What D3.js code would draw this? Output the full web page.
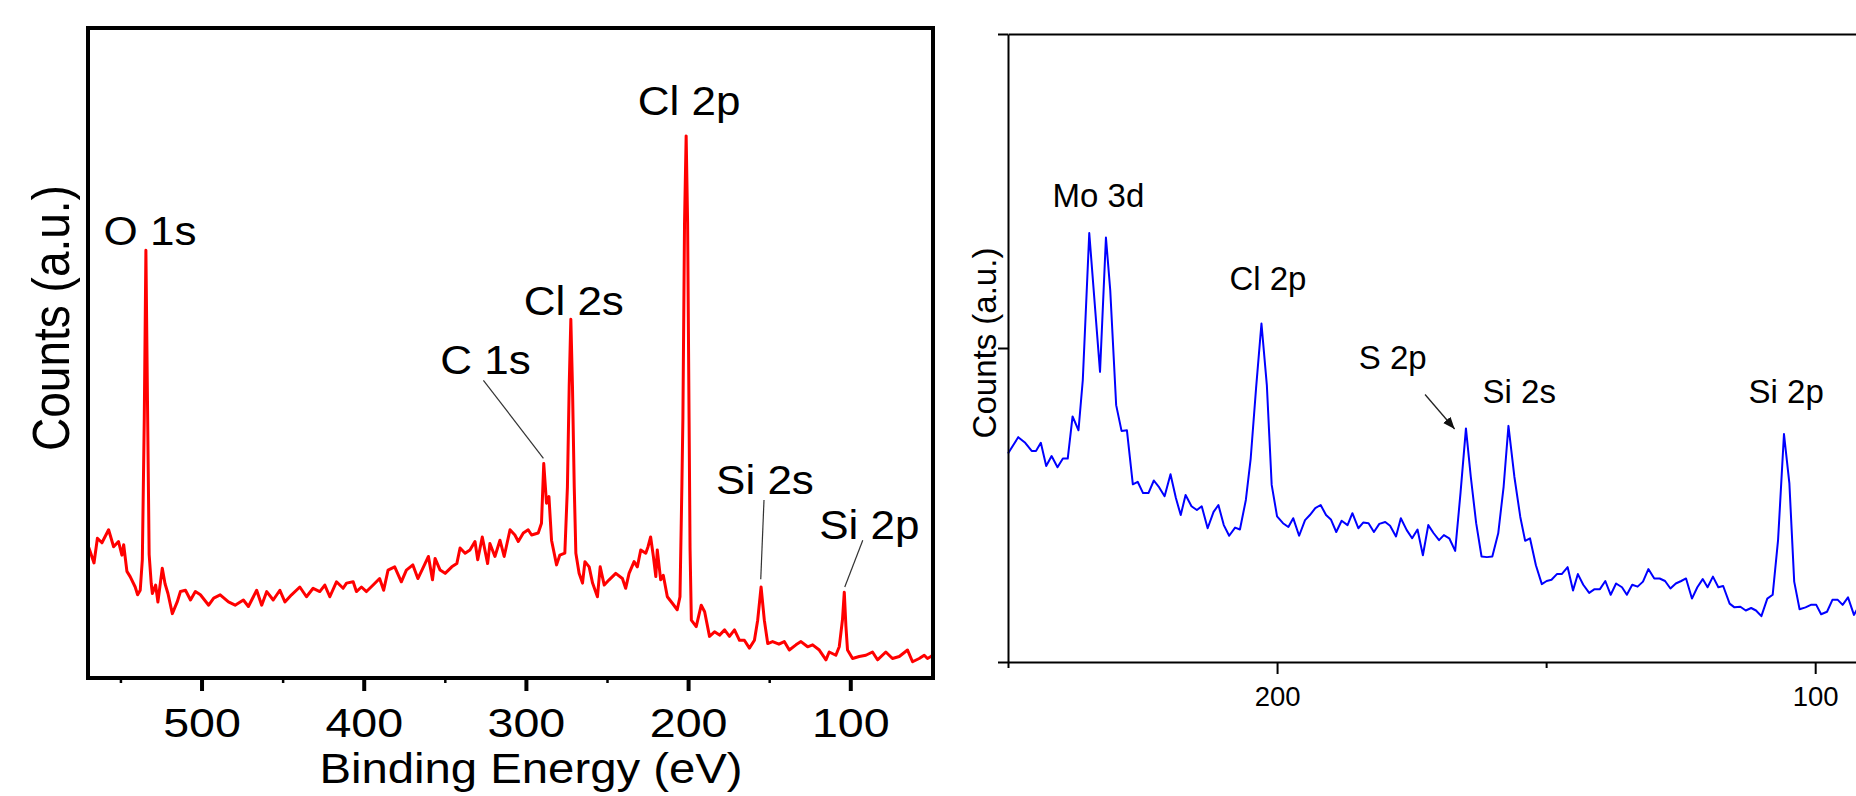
<!DOCTYPE html>
<html>
<head>
<meta charset="utf-8">
<script src="https://cdn.jsdelivr.net/npm/d3@7"></script>
<style>
body { margin: 0; background: #fff; overflow: hidden; }
text { font-family: "Liberation Sans", Arial, sans-serif; fill: #000; }
</style>
</head>
<body>
<script>
// ---- data ----
// left panel: XPS survey, binding energy (eV) / counts (a.u.)
var surveyEnergy = [570, 569.4, 566.3, 564.2, 561.4, 557.3, 554.2, 551.2, 549.1, 548.0, 546.0, 544.0, 540.9, 539.4, 537.8,
  536.5, 535.3, 534.3, 533.3, 532.3, 531.0, 530.3, 528.3, 526.9, 524.2, 522.5, 520.7, 518.0, 515.0, 513.0, 509.9,
  506.8, 503.8, 500.7, 495.6, 492.5, 488.5, 483.4, 479.3, 474.2, 471.1, 466.0, 462.9, 459.8, 455.8, 451.7, 448.6,
  444.5, 439.4, 435.3, 431.2, 427.1, 424.0, 420.9, 416.8, 412.7, 410.6, 406.5, 404.5, 401.4, 398.3, 394.2, 390.2,
  387.7, 385.0, 380.9, 376.8, 373.7, 369.7, 366.6, 363.5, 360.1, 357.6, 356.0, 352.9, 349.8, 345.7, 342.6, 340.6,
  337.5, 334.5, 331.4, 329.7, 326.9, 323.6, 322.2, 319.1, 316.0, 313.4, 309.8, 306.8, 304.7, 301.6, 298.6, 296.5,
  292.4, 290.4, 289.0, 287.3, 285.8, 284.2, 281.1, 279.1, 276.0, 274.4, 273.3, 272.3, 271.3, 270.2, 269.2, 267.2,
  265.1, 263.6, 261.0, 258.9, 255.9, 254.2, 251.7, 248.7, 244.6, 240.5, 238.5, 236.4, 233.3, 231.3, 229.2, 226.1,
  224.7, 223.1, 221.4, 219.9, 219.0, 216.9, 215.3, 212.8, 209.7, 206.7, 205.0, 203.8, 203.2, 202.2, 201.2, 200.3,
  199.4, 198.8, 198.0, 195.0, 191.9, 189.8, 186.8, 183.7, 180.6, 177.5, 174.5, 171.4, 168.3, 165.3, 162.2, 159.1,
  157.1, 155.0, 153.0, 150.9, 147.9, 144.0, 140.7, 137.6, 133.5, 130.4, 126.3, 123.2, 119.1, 115.0, 113.0, 108.9,
  106.8, 104.8, 103.7, 102.7, 101.7, 98.6, 94.5, 90.4, 86.3, 83.2, 78.1, 74.0, 69.8, 64.7, 61.6, 57.5, 54.4, 52.4,
  50.3, 49.0];
var surveyCounts = [19.5, 20.0, 17.7, 21.5, 20.8, 22.8, 20.2, 21.0, 18.9, 20.5, 16.4, 15.6, 14.0, 12.8, 13.5,
  18.2, 40.0, 65.8, 42.0, 19.0, 14.5, 13.0, 14.3, 11.7, 16.9, 14.5, 13.0, 9.9, 11.7, 13.3, 13.5,
  12.0, 13.3, 12.8, 11.2, 12.3, 12.8, 11.7, 11.2, 12.0, 11.0, 13.5, 11.2, 13.3, 12.0, 13.5, 11.7,
  12.8, 14.0, 12.5, 13.8, 13.3, 14.3, 12.5, 14.8, 13.8, 14.6, 14.8, 13.3, 14.0, 13.3, 14.3, 15.3,
  13.5, 16.6, 17.1, 14.8, 16.6, 17.4, 15.3, 16.9, 18.7, 15.1, 18.4, 16.6, 16.1, 17.1, 17.6, 20.0,
  19.2, 19.7, 21.0, 18.2, 21.7, 17.6, 20.7, 18.7, 21.2, 18.7, 22.8, 22.0, 21.0, 22.3, 22.8, 22.0,
  22.3, 23.8, 33.0, 26.9, 27.9, 21.2, 17.4, 18.9, 19.2, 29.4, 45.0, 55.2, 45.0, 29.4, 19.2, 16.1,
  14.6, 17.9, 17.1, 14.6, 12.5, 17.1, 14.3, 15.1, 16.1, 15.3, 13.8, 16.1, 17.9, 17.1, 19.7, 19.2,
  20.2, 21.7, 18.7, 15.6, 19.7, 15.1, 15.8, 12.5, 11.5, 10.5, 12.5, 30.0, 40.0, 70.0, 83.4, 70.0,
  40.0, 20.0, 8.9, 7.9, 11.2, 10.2, 6.4, 7.1, 6.6, 7.4, 6.4, 7.4, 5.8, 5.8, 4.6, 5.8,
  8.9, 14.0, 8.9, 5.3, 5.6, 5.2, 5.6, 4.3, 5.1, 5.6, 4.8, 5.1, 4.3, 2.8, 4.0, 3.5,
  4.8, 9.0, 13.2, 8.0, 4.3, 3.0, 3.3, 3.5, 4.0, 2.8, 4.0, 3.0, 3.3, 4.3, 2.5, 3.0, 3.5, 3.0,
  3.3, 3.6];
var surveyTicks = [500, 400, 300, 200, 100];
var surveyMinorTicks = [550, 450, 350, 250, 150];
var surveyLabels = ["O 1s", "C 1s", "Cl 2s", "Cl 2p", "Si 2s", "Si 2p"];
var surveyLabelEnergy = [531.8, 324.9, 270.5, 199.4, 152.6, 88.3];
var surveyLabelCounts = [66.6, 46.8, 55.8, 86.6, 28.3, 21.4];
// leader lines: [label end energy, label end counts, peak energy, peak counts]
var surveyLeaders = [[326.2, 45.8, 289.2, 33.8], [153.2, 27.4, 155.2, 15.2], [92.3, 21.2, 103.4, 14.0]];

// right panel: high resolution scan
var scanEnergy = [250, 248.1, 246.8, 245.6, 244.8, 243.9, 242.9, 241.9, 240.8, 239.8, 238.9, 238.0, 236.9, 236.1,
  234.9, 232.9, 231.8, 231.0, 229.9, 228.9, 227.9, 226.8, 225.9, 224.9, 223.9, 222.9, 221.9, 220.9, 219.8, 218.8,
  217.9, 217.0, 215.9, 214.9, 214.0, 212.9, 211.8, 210.9, 209.9, 208.9, 207.8, 206.9, 205.8, 204.9, 203.9, 202.9,
  201.9, 201.0, 200.0, 198.9, 197.9, 197.0, 195.9, 194.8, 193.9, 192.9, 191.9, 190.9, 190.0, 189.0, 188.0, 186.9,
  186.0, 184.9, 184.0, 183.0, 182.0, 181.0, 179.9, 179.0, 177.9, 177.0, 175.9, 174.9, 173.9, 172.9, 171.9, 170.9,
  169.9, 169.0, 168.0, 166.9, 165.9, 164.9, 164.0, 163.0, 162.0, 161.0, 160.0, 158.9, 157.9, 157.0, 155.9, 154.8,
  153.9, 153.0, 151.9, 150.8, 149.9, 149.0, 148.0, 147.1, 146.0, 145.0, 144.1, 143.1, 142.0, 141.0, 140.0, 139.0,
  138.0, 137.0, 135.9, 135.0, 134.0, 133.0, 132.0, 131.0, 129.9, 128.9, 127.9, 126.9, 125.9, 124.9, 124.0, 122.9,
  121.9, 120.9, 120.0, 119.0, 118.0, 117.1, 115.9, 115.0, 113.9, 112.9, 111.9, 111.0, 110.0, 108.9, 107.9, 106.9,
  105.8, 104.8, 103.9, 102.9, 101.8, 100.8, 99.8, 98.9, 97.8, 96.8, 95.8, 94.9, 93.9, 92.8, 91.8];
var scanCounts = [33.2, 35.8, 34.9, 33.6, 33.6, 34.9, 31.2, 32.8, 31.0, 32.4, 32.4, 39.1, 36.9, 44.9,
  68.3, 46.2, 67.6, 59.2, 40.9, 36.8, 36.9, 28.3, 28.7, 26.9, 26.9, 28.9, 27.8, 26.4, 29.9, 26.1,
  23.4, 26.6, 24.8, 24.2, 24.8, 21.3, 23.9, 25.0, 21.8, 20.1, 21.4, 21.1, 25.8, 32.4, 43.6, 53.9,
  44.1, 28.2, 23.2, 22.1, 21.5, 22.9, 20.1, 22.6, 23.4, 24.5, 25.0, 23.4, 22.7, 20.7, 22.5, 21.8,
  23.7, 21.3, 22.2, 22.1, 20.7, 22.0, 22.3, 21.7, 20.0, 22.9, 21.0, 19.7, 21.1, 17.0, 21.8, 20.5,
  19.4, 20.2, 19.7, 17.7, 27.0, 37.2, 29.5, 22.1, 16.8, 16.7, 16.8, 20.5, 27.9, 37.6, 29.5, 23.1,
  19.3, 19.7, 15.4, 12.4, 12.9, 13.1, 14.0, 14.0, 15.1, 11.4, 14.0, 12.3, 11.0, 11.6, 11.6, 12.9,
  10.7, 12.5, 11.9, 10.7, 12.3, 12.0, 12.8, 14.8, 13.3, 13.3, 12.9, 11.7, 12.5, 12.9, 13.3, 10.1,
  11.9, 13.2, 11.9, 13.6, 11.9, 12.1, 9.3, 8.7, 8.8, 8.2, 8.6, 8.2, 7.3, 10.1, 10.7, 19.4,
  36.3, 28.5, 12.8, 8.4, 8.7, 9.1, 9.1, 7.6, 8.0, 9.9, 9.9, 9.1, 10.3, 7.5, 9.0];
var scanTicks = [200, 100];
var scanMinorTicks = [250, 150];
var scanYTicks = [0, 50, 100];
var scanLabels = ["Mo 3d", "Cl 2p", "S 2p", "Si 2s", "Si 2p"];
var scanLabelEnergy = [233.2, 201.7, 178.5, 155.0, 105.4];
var scanLabelCounts = [72.5, 59.2, 46.6, 41.3, 41.3];
var scanArrow = [172.5, 42.6, 167.0, 37.1];

var svg = d3.select("body").append("svg")
    .attr("width", 1856)
    .attr("height", 796);

svg.append("defs").append("marker")
    .attr("id", "arrow")
    .attr("viewBox", "0 0 10 10")
    .attr("refX", 10).attr("refY", 5)
    .attr("markerUnits", "userSpaceOnUse")
    .attr("markerWidth", 12).attr("markerHeight", 12)
    .attr("orient", "auto")
    .append("path").attr("d", "M0,1L10,5L0,9z").attr("fill", "#111");

// ================= left panel =================
var xL = d3.scaleLinear().domain([570, 49]).range([88, 933]);
var yL = d3.scaleLinear().domain([0, 100]).range([678, 28]);
var left = svg.append("g");

left.append("path")
    .datum(d3.zip(surveyEnergy, surveyCounts))
    .attr("fill", "none")
    .attr("stroke", "#ff0000")
    .attr("stroke-width", 3)
    .attr("stroke-linejoin", "round")
    .attr("d", d3.line().x(function(d){ return xL(d[0]); }).y(function(d){ return yL(d[1]); }));

left.append("rect")
    .attr("x", xL.range()[0]).attr("y", yL.range()[1])
    .attr("width", xL.range()[1] - xL.range()[0])
    .attr("height", yL.range()[0] - yL.range()[1])
    .attr("fill", "none").attr("stroke", "#000").attr("stroke-width", 4);

var axL = left.append("g")
    .attr("transform", "translate(0," + yL(0) + ")")
    .call(d3.axisBottom(xL).tickValues(surveyTicks).tickSize(13).tickSizeOuter(0));
axL.select(".domain").remove();
axL.selectAll(".tick line").attr("stroke-width", 4);
axL.selectAll(".tick text")
    .attr("y", 59).attr("dy", null)
    .attr("font-size", 40.5)
    .attr("font-family", "'Liberation Sans', Arial, sans-serif")
    .attr("transform", "scale(1.15,1)");

var axLm = left.append("g")
    .attr("transform", "translate(0," + yL(0) + ")")
    .call(d3.axisBottom(xL).tickValues(surveyMinorTicks).tickSize(5).tickSizeOuter(0).tickFormat(""));
axLm.select(".domain").remove();
axLm.selectAll(".tick line").attr("stroke-width", 2.5);

left.append("text")
    .attr("transform", "translate(531,783) scale(1.1,1)")
    .attr("text-anchor", "middle")
    .attr("font-size", 43)
    .text("Binding Energy (eV)");

left.append("text")
    .attr("transform", "translate(69,318) rotate(-90) scale(1,1.12)")
    .attr("text-anchor", "middle")
    .attr("font-size", 46)
    .text("Counts (a.u.)");

left.selectAll(".lead")
    .data(surveyLeaders)
    .enter()
    .append("line")
    .attr("x1", function(d){ return xL(d[0]); })
    .attr("y1", function(d){ return yL(d[1]); })
    .attr("x2", function(d){ return xL(d[2]); })
    .attr("y2", function(d){ return yL(d[3]); })
    .attr("stroke", "#333").attr("stroke-width", 1.2);

left.selectAll(".peak")
    .data(surveyLabels)
    .enter()
    .append("text")
    .attr("transform", function(d, i){
        return "translate(" + xL(surveyLabelEnergy[i]) + "," + yL(surveyLabelCounts[i]) + ") scale(1.1,1)";
    })
    .attr("text-anchor", "middle")
    .attr("font-size", 40)
    .text(function(d){ return d; });

// ================= right panel =================
var xR = d3.scaleLinear().domain([250, 90]).range([1008, 1869]);
var yR = d3.scaleLinear().domain([0, 100]).range([662, 34]);
var right = svg.append("g");

right.append("path")
    .datum(d3.zip(scanEnergy, scanCounts))
    .attr("fill", "none")
    .attr("stroke", "#0000ff")
    .attr("stroke-width", 2)
    .attr("stroke-linejoin", "round")
    .attr("d", d3.line().x(function(d){ return xR(d[0]); }).y(function(d){ return yR(d[1]); }));

var axR = right.append("g")
    .attr("transform", "translate(0," + yR(0) + ")")
    .call(d3.axisBottom(xR).tickValues(scanTicks).tickSize(12).tickSizeOuter(0));
axR.select(".domain").attr("stroke-width", 2);
axR.selectAll(".tick line").attr("stroke-width", 2);
axR.selectAll(".tick text")
    .attr("y", 44).attr("dy", null)
    .attr("font-size", 27.5)
    .attr("font-family", "'Liberation Sans', Arial, sans-serif");

var axRm = right.append("g")
    .attr("transform", "translate(0," + yR(0) + ")")
    .call(d3.axisBottom(xR).tickValues(scanMinorTicks).tickSize(6).tickSizeOuter(0).tickFormat(""));
axRm.select(".domain").remove();
axRm.selectAll(".tick line").attr("stroke-width", 2);

var axRtop = right.append("g")
    .attr("transform", "translate(0," + yR(100) + ")")
    .call(d3.axisTop(xR).tickValues([]).tickSizeOuter(0));
axRtop.select(".domain").attr("stroke-width", 2);

var axRy = right.append("g")
    .attr("transform", "translate(" + xR(250) + ",0)")
    .call(d3.axisLeft(yR).tickValues(scanYTicks).tickSize(10).tickSizeOuter(0).tickFormat(""));
axRy.select(".domain").attr("stroke-width", 2);
axRy.selectAll(".tick line").attr("stroke-width", 2);

right.append("text")
    .attr("transform", "translate(996,343) rotate(-90)")
    .attr("text-anchor", "middle")
    .attr("font-size", 33)
    .text("Counts (a.u.)");

right.selectAll(".peak")
    .data(scanLabels)
    .enter()
    .append("text")
    .attr("x", function(d, i){ return xR(scanLabelEnergy[i]); })
    .attr("y", function(d, i){ return yR(scanLabelCounts[i]); })
    .attr("text-anchor", "middle")
    .attr("font-size", 33)
    .text(function(d){ return d; });

right.append("line")
    .attr("x1", xR(scanArrow[0])).attr("y1", yR(scanArrow[1]))
    .attr("x2", xR(scanArrow[2])).attr("y2", yR(scanArrow[3]))
    .attr("stroke", "#222").attr("stroke-width", 1.3)
    .attr("marker-end", "url(#arrow)");
</script>
</body>
</html>
